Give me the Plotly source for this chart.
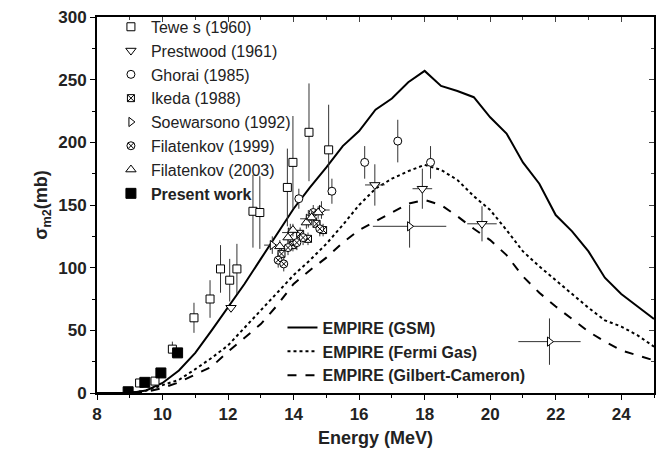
import plotly.graph_objects as go

# ---- data ----
E_grid = [8, 8.5, 9, 9.5, 10, 10.5, 11, 11.5, 12, 12.5, 13, 13.5, 14, 14.5, 15, 15.5, 16, 16.5,
          17, 17.5, 18, 18.5, 19, 19.5, 20, 20.5, 21, 21.5, 22, 22.5, 23, 23.5, 24, 24.5, 25]
gsm = [0, 0, 0, 2, 8, 18, 32, 50, 68, 87, 107, 127, 147, 164, 180, 197, 209, 226,
       235, 248, 257, 245, 241, 236, 220, 207, 184, 167, 142, 129, 113, 92, 79, 69, 59]
fermi = [0, 0, 0, 2, 6, 10.5, 19, 28, 38, 52, 66, 80, 94, 106, 119, 134, 150, 163,
         171, 177, 182, 178, 170, 157, 146, 130, 113, 101, 90, 79, 68, 58, 53, 46, 37]
gc = [0, 0, 0, 1, 4, 8.5, 15, 21, 33, 44, 55, 70, 87, 98, 108, 120, 130, 137,
      144, 151, 154, 150, 141, 131, 122, 110, 93, 80, 69, 59, 49, 41, 34, 30, 26]

tewes_x = [9.3, 9.77, 10.3, 10.96, 11.45, 11.77, 12.05, 12.27, 12.76, 12.97, 13.81, 13.98, 14.47, 15.07]
tewes_y = [8, 9.5, 35, 60, 75, 99, 90, 99, 145, 144, 164, 184, 208, 194]
tewes_ey = [2, 2, 6, 12, 15, 19, 17, 20, 29, 29, 31, 37, 39, 36]

prest_x = [12.09, 16.48, 17.93, 19.75]
prest_y = [68, 166, 163, 135]
prest_ey = [0, 16.5, 16, 14]
prest_ex = [0, 0.3, 0.3, 0.45]

ghorai_x = [14.16, 15.17, 16.17, 17.18, 18.18]
ghorai_y = [155, 161, 184, 201, 184]
ghorai_ey = [8, 10, 13, 17, 13]

ikeda_x = [13.63, 13.98, 14.2, 14.44, 14.7, 14.9]
ikeda_y = [111, 118, 127, 123, 135, 130]
ikeda_ey = [5, 5, 5, 5, 5, 5]

soew_x = [13.35, 13.9, 14.45, 14.85, 17.54, 21.81]
soew_y = [118, 128, 139, 146, 133, 41]
soew_ey = [7, 7, 7, 7, 17, 18.5]
soew_ex = [0.25, 0.25, 0.25, 0.25, 1.12, 0.95]

fil99_x = [13.53, 13.7, 13.83, 14.1, 14.29, 14.6, 14.8]
fil99_y = [106, 103, 116, 120, 124, 144, 131]
fil99_ey = [6, 6, 6, 6, 6, 6, 6]

fil03_x = [13.58, 13.83, 13.98, 14.39, 14.55, 14.75]
fil03_y = [117, 124, 130, 136, 140, 144]
fil03_ey = [5, 5, 5, 5, 5, 5]

present_x = [8.95, 9.46, 9.95, 10.46]
present_y = [1, 8.5, 16, 32]
present_ey = [1.5, 1.5, 2, 3]

FONT = "Liberation Sans"
EC = "#333333"

fig = go.Figure()

def pts(name, x, y, sym, ey=None, ex=None, size=7, color="black", filled=False):
    fig.add_trace(go.Scatter(
        x=x, y=y, mode="markers", name=name, legend="legend",
        marker=dict(symbol=sym, size=size, color=color if filled else "white",
                    line=dict(color=color, width=1)),
        error_y=dict(type="data", array=ey, visible=ey is not None, thickness=1, width=0, color=EC),
        error_x=dict(type="data", array=ex, visible=ex is not None, thickness=1, width=0, color=EC),
    ))

# lines (second legend)
fig.add_trace(go.Scatter(x=E_grid, y=gsm, mode="lines", name="<b>EMPIRE (GSM)</b>", legend="legend2",
                         line=dict(color="black", width=2)))
fig.add_trace(go.Scatter(x=E_grid, y=fermi, mode="lines", name="<b>EMPIRE (Fermi Gas)</b>", legend="legend2",
                         line=dict(color="black", width=2, dash="dot")))
fig.add_trace(go.Scatter(x=E_grid, y=gc, mode="lines", name="<b>EMPIRE (Gilbert-Cameron)</b>", legend="legend2",
                         line=dict(color="black", width=2, dash="dash")))

pts("Tewe s (1960)", tewes_x, tewes_y, "square", ey=tewes_ey, size=8)
pts("Prestwood (1961)", prest_x, prest_y, "triangle-down", ey=prest_ey, ex=prest_ex, size=9)
pts("Ghorai (1985)", ghorai_x, ghorai_y, "circle", ey=ghorai_ey, size=8)
pts("Ikeda (1988)", ikeda_x, ikeda_y, "square-x", ey=ikeda_ey, size=7)
pts("Soewarsono (1992)", soew_x, soew_y, "triangle-right", ey=soew_ey, ex=soew_ex, size=8)
pts("Filatenkov (1999)", fil99_x, fil99_y, "circle-x", ey=fil99_ey, size=8)
pts("Filatenkov (2003)", fil03_x, fil03_y, "triangle-up", ey=fil03_ey, size=9)
pts("<b>Present work</b>", present_x, present_y, "square", ey=present_ey, size=10, filled=True)

# invisible trace for mirrored inside ticks
fig.add_trace(go.Scatter(x=[8], y=[0], xaxis="x2", yaxis="y2", mode="markers",
                         marker=dict(opacity=0), showlegend=False, hoverinfo="skip"))

axis_common = dict(showgrid=False, zeroline=False, showline=True, linecolor="black", linewidth=2,
                   ticks="outside", ticklen=5, tickwidth=1.2, tickcolor="black",
                   tickfont=dict(family=FONT, size=17, color="#222", weight="bold"))

fig.update_layout(
    width=662, height=457,
    margin=dict(l=97, r=8, t=12, b=64),
    paper_bgcolor="white", plot_bgcolor="white",
    font=dict(family=FONT, color="#222"),
    xaxis=dict(range=[8, 25], dtick=2, tick0=8,
               minor=dict(dtick=1, ticks="outside", ticklen=3, tickcolor="black"),
               title=dict(text="<b>Energy (MeV)</b>", font=dict(family=FONT, size=18), standoff=8),
               **axis_common),
    yaxis=dict(range=[0, 300], dtick=50,
               minor=dict(dtick=25, ticks="outside", ticklen=3, tickcolor="black"),
               title=dict(text="<b>σ<sub>m2</sub>(mb)</b>", font=dict(family=FONT, size=18), standoff=6),
               **axis_common),
    xaxis2=dict(range=[8, 25], overlaying="x", side="top", showgrid=False, zeroline=False,
                showline=True, linecolor="black", linewidth=2, ticks="inside", ticklen=5,
                dtick=2, tick0=8, showticklabels=False,
                minor=dict(dtick=1, ticks="inside", ticklen=3)),
    yaxis2=dict(range=[0, 300], overlaying="y", side="right", showgrid=False, zeroline=False,
                showline=True, linecolor="black", linewidth=2, ticks="inside", ticklen=5,
                dtick=50, showticklabels=False,
                minor=dict(dtick=25, ticks="inside", ticklen=3)),
    legend=dict(x=0.025, y=1.019, xanchor="left", yanchor="top", bgcolor="rgba(0,0,0,0)",
                font=dict(family=FONT, size=16, color="#222"), tracegroupgap=0, itemsizing="trace"),
    legend2=dict(x=0.333, y=0.219, xanchor="left", yanchor="top", bgcolor="rgba(0,0,0,0)",
                 font=dict(family=FONT, size=16, color="#222"), tracegroupgap=0),
    showlegend=True,
)

fig.write_html("out.html")
